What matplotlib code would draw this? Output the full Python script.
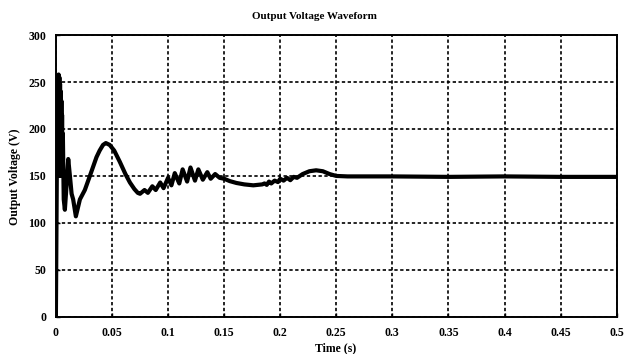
import matplotlib
matplotlib.use("Agg")
import matplotlib.pyplot as plt
import numpy as np

plt.rcParams['font.family'] = ['Liberation Serif', 'DejaVu Serif']
plt.rcParams['font.weight'] = 'bold'

# ── Data ──────────────────────────────────────────────────────────────────────
time_s = [
    0.0, 0.0008, 0.0016, 0.0020, 0.0024, 0.0028, 0.0031, 0.0034, 0.0037, 0.0040,
    0.0043, 0.0046, 0.0049, 0.0052, 0.0055, 0.0058, 0.0062,
    0.0070, 0.0080, 0.0095, 0.0110, 0.0125, 0.0140, 0.0154, 0.0178, 0.0214, 0.0258,
    0.0303, 0.0362, 0.0390, 0.0420, 0.0445, 0.0480, 0.0520, 0.0570, 0.0620, 0.0660,
    0.0700, 0.0730, 0.0750,
    0.0790, 0.0820, 0.0860, 0.0890, 0.0930, 0.0960, 0.1000, 0.1030, 0.1060, 0.1100,
    0.1130, 0.1170, 0.1200, 0.1240, 0.1270, 0.1310, 0.1350, 0.1380, 0.1420, 0.1460,
    0.1500, 0.1550, 0.1610, 0.1680, 0.1760, 0.1840, 0.1860, 0.1880, 0.1900, 0.1920,
    0.1950, 0.1980, 0.2000, 0.2030, 0.2060, 0.2090, 0.2120, 0.2150, 0.2200, 0.2260,
    0.2320, 0.2380, 0.2440, 0.2500, 0.2600, 0.3000, 0.3500, 0.4000, 0.4500, 0.5000,
]
voltage_v = [
    0.0, 150.0, 240.0, 160.0, 258.0, 150.0, 255.0, 152.0, 248.0, 150.0,
    240.0, 150.0, 230.0, 152.0, 215.0, 155.0, 195.0,
    125.0, 114.0, 140.0, 168.0, 150.0, 131.0, 125.0, 107.0, 125.0, 135.0,
    150.0, 170.0, 177.0, 183.0, 185.0, 183.0, 177.0, 165.0, 152.0, 143.0,
    136.0, 132.0, 131.0,
    135.0, 132.0, 139.0, 135.0, 143.0, 137.0, 148.0, 140.0, 153.0, 142.0,
    157.0, 144.0, 159.0, 145.0, 157.0, 146.0, 154.0, 147.0, 152.0, 148.0,
    147.0, 144.5, 142.5, 141.0, 140.0, 141.0, 142.0, 140.5, 144.0, 142.0,
    145.0, 143.5, 147.0, 145.0, 148.0, 145.5, 149.0, 148.0, 152.0, 155.0,
    156.0, 155.0, 152.0, 150.0, 149.5, 149.5, 149.0, 149.5, 149.0, 149.0,
]

x_ticks = [0, 0.05, 0.1, 0.15, 0.2, 0.25, 0.3, 0.35, 0.4, 0.45, 0.5]
x_tick_labels = ["0", "0.05", "0.1", "0.15", "0.2", "0.25", "0.3", "0.35", "0.4", "0.45", "0.5"]
y_ticks = [0, 50, 100, 150, 200, 250, 300]

# ── Plot ──────────────────────────────────────────────────────────────────────
fig = plt.figure(figsize=(6.28, 3.54), dpi=100)
ax = fig.add_axes([0.089, 0.105, 0.893, 0.796])

ax.plot(time_s, voltage_v, color="black", linewidth=3.0, solid_joinstyle="round")

ax.set_xlim(0, 0.5)
ax.set_ylim(0, 300)
ax.set_xticks(x_ticks)
ax.set_xticklabels(x_tick_labels)
ax.set_yticks(y_ticks)
ax.tick_params(direction="in", length=3, width=1, labelsize=8.5, pad=7)
for lbl in ax.get_xticklabels() + ax.get_yticklabels():
    lbl.set_fontweight("bold")

ax.grid(True, color="black", linestyle=(0, (2, 1.5)), linewidth=1.2)
for sp in ax.spines.values():
    sp.set_linewidth(1.4)

fig.text(0.5, 0.952, "Output Voltage Waveform", ha="center", va="center",
         fontsize=8, fontweight="bold")
fig.text(0.535, 0.017, "Time (s)", ha="center", va="center",
         fontsize=8.5, fontweight="bold")
fig.text(0.024, 0.50, "Output Voltage (V)", ha="center", va="center",
         rotation=90, fontsize=8.5, fontweight="bold")

fig.savefig("out.png", dpi=100)
